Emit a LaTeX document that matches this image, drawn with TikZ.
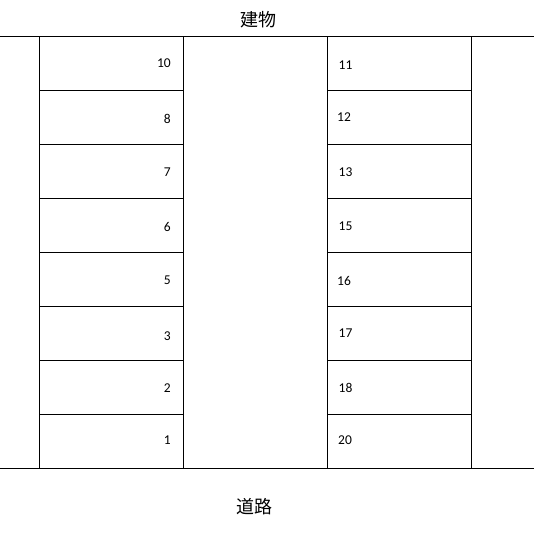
\documentclass[tikz,border=0pt]{standalone}
\usepackage{fontspec}
\setmainfont{Carlito}
\newfontfamily\cjk{Noto Sans CJK JP}
\begin{document}
\begin{tikzpicture}[x=1pt,y=-1pt,
  cell/.style={draw=black,line width=0.9pt,rectangle,minimum width=144pt,minimum height=54pt,inner sep=0pt,outer sep=0pt},
  numl/.style={font=\fontsize{13.5pt}{16pt}\selectfont,inner sep=0pt,anchor=east},
  numr/.style={font=\fontsize{13.5pt}{16pt}\selectfont,inner sep=0pt,anchor=west},
  title/.style={font=\cjk\fontsize{18pt}{21pt}\selectfont,inner sep=0pt},
  edge/.style={draw=black,line width=0.9pt}]
\useasboundingbox (0,0) rectangle (534,541);
% cells
\foreach \i/\l/\r [count=\k from 0] in {0/10/11,1/8/12,2/7/13,3/6/15,4/5/16,5/3/17,6/2/18,7/1/20}{
  \node[cell] (L\k) at (111.3,{63.5+54*\k}) {};
  \node[cell] (R\k) at (399.3,{63.5+54*\k}) {};
}
% numbers
\node[numl] (nl0) at (171,63) {10};
\node[numl] (nl1) at (171,118.5) {8};
\node[numl] (nl2) at (171,172.5) {7};
\node[numl] (nl3) at (171,226.5) {6};
\node[numl] (nl4) at (171,280.5) {5};
\node[numl] (nl5) at (171,336) {3};
\node[numl] (nl6) at (171,388.5) {2};
\node[numl] (nl7) at (171,440.5) {1};
\node[numr] (nr0) at (338.5,65.5) {11};
\node[numr] (nr1) at (337,117.5) {12};
\node[numr] (nr2) at (338.5,172) {13};
\node[numr] (nr3) at (338.5,226.5) {15};
\node[numr] (nr4) at (337,281) {16};
\node[numr] (nr5) at (338.5,333.5) {17};
\node[numr] (nr6) at (338.5,387.5) {18};
\node[numr] (nr7) at (338,440.5) {20};
% boundary lines
\coordinate (tl) at (0,36.5);
\coordinate (tr) at (534,36.5);
\coordinate (bl) at (0,468.5);
\coordinate (br) at (534,468.5);
\draw[edge] (tl) -- (tr);
\draw[edge] (bl) -- (br);
% titles
\node[title] (bldg) at (258,20) {建物};
\node[title] (road) at (254,507) {道路};
\end{tikzpicture}
\end{document}
